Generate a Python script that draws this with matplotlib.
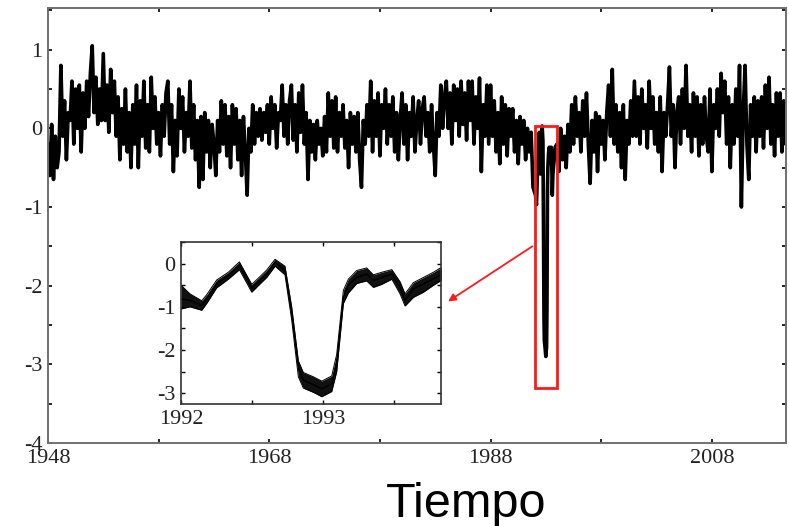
import numpy as np
import matplotlib
matplotlib.use('Agg')
import matplotlib.pyplot as plt
from matplotlib.patches import Rectangle

plt.rcParams['axes.unicode_minus'] = False

# Serie principal, 6 valores por año (1948-1991)
serie_1948_1991 = [
    -0.2, -0.6, 0.05, -0.65, -0.1, -0.5,
    -0.3, 0.8, -0.1, 0.35, -0.4, 0.2,
    0.1, 0.6, -0.2, 0.5, 0.0, 0.55,
    -0.3, 0.45, 0.0, 0.6, 0.15, 0.7,
    1.05, 0.2, 0.65, 0.05, 0.5, 0.1,
    0.95, 0.1, 0.55, -0.05, 0.75, 0.2,
    0.6, -0.1, 0.4, -0.4, 0.25, -0.2,
    0.5, -0.3, 0.2, -0.5, 0.3, -0.2,
    0.55, -0.5, 0.35, -0.1, 0.6, -0.25,
    0.3, -0.3, 0.65, 0.0, 0.4, -0.2,
    0.2, -0.35, 0.3, -0.1, 0.45, 0.6,
    -0.2, 0.3, -0.55, 0.1, -0.35, 0.5,
    0.0, 0.4, -0.3, 0.2, -0.1, 0.6,
    -0.25, 0.3, -0.4, 0.1, -0.75, 0.15,
    -0.65, 0.2, -0.3, 0.1, -0.5, 0.05,
    -0.2, -0.6, 0.1, -0.3, 0.35, -0.2,
    0.3, -0.35, 0.15, -0.5, 0.3, -0.2,
    0.25, -0.4, 0.1, -0.6, 0.15, -0.3,
    -0.85, 0.0, -0.3, 0.3, -0.2, 0.2,
    -0.1, 0.25, -0.15, 0.2, -0.05, 0.3,
    -0.2, 0.4, 0.0, 0.3, -0.25, 0.2,
    0.1, 0.55, -0.1, 0.3, -0.2, 0.35,
    0.55, -0.15, 0.3, -0.3, 0.45, -0.05,
    0.55, -0.2, 0.2, -0.65, 0.1, -0.3,
    0.05, -0.4, 0.1, -0.2, 0.0, -0.35,
    0.15, -0.3, 0.45, -0.1, 0.35, -0.25,
    0.4, -0.3, 0.2, -0.1, 0.3, -0.25,
    0.1, -0.5, 0.2, -0.2, 0.15, -0.3,
    0.2, -0.4, -0.75, 0.1, -0.2, 0.3,
    -0.1, 0.6, -0.3, 0.35, -0.1, 0.45,
    -0.35, 0.3, 0.0, 0.5, -0.2, 0.3,
    -0.1, 0.4, -0.3, 0.2, -0.4, 0.1,
    0.45, -0.2, 0.3, -0.4, 0.2, -0.1,
    0.4, -0.3, 0.1, 0.35, -0.2, 0.25,
    0.4, -0.1, 0.2, -0.3, 0.3, -0.2,
    -0.6, 0.2, -0.1, 0.55, 0.0, 0.4,
    0.6, 0.0, 0.45, -0.2, 0.55, 0.1,
    0.5, -0.1, 0.6, 0.05, 0.45, -0.15,
    0.6, 0.1, 0.6, -0.2, 0.4, 0.0,
    0.64, -0.55, 0.3, -0.1, 0.55, -0.2,
    0.55, -0.1, 0.35, -0.3, 0.2, -0.45,
    0.4, -0.2, 0.3, -0.35, 0.25, -0.1,
    0.25, -0.3, 0.1, -0.45, 0.15, -0.2,
    0.1, -0.4, 0.0, -0.3, -0.05, -0.75,
]

# Serie principal, 6 valores por año (1994-2014)
serie_1994_2014 = [
    -0.2, -0.55, 0.0, -0.4, -0.1, -0.5,
    0.05, -0.3, 0.3, -0.2, 0.4, -0.1,
    0.2, -0.3, 0.35, -0.1, 0.45, -0.2,
    -0.7, 0.1, -0.3, 0.2, -0.55, 0.15,
    -0.2, 0.1, -0.4, 0.2, 0.55, -0.1,
    0.75, -0.2, 0.3, -0.3, 0.2, -0.5,
    0.3, -0.65, 0.1, -0.2, 0.35, -0.1,
    0.6, -0.1, 0.4, -0.2, 0.5, 0.0,
    0.3, -0.25, 0.6, 0.0, 0.4, -0.2,
    0.2, -0.3, 0.4, -0.55, 0.2, -0.1,
    0.3, 0.78, -0.1, 0.3, -0.5, 0.2,
    0.4, -0.2, 0.5, 0.0, 0.8, -0.1,
    0.3, -0.3, 0.45, -0.1, 0.4, -0.35,
    0.3, -0.2, 0.4, -0.1, -0.3, 0.5,
    -0.55, 0.3, 0.0, 0.5, -0.1, 0.7,
    0.2, 0.6, -0.2, 0.4, -0.5, 0.3,
    -0.2, 0.5, -0.1, 0.8, -1.0, 0.2,
    0.8, -0.2, -0.65, 0.3, -0.1, 0.4,
    -0.3, 0.35, -0.1, 0.4, -0.25, 0.55,
    0.0, 0.65, -0.2, 0.3, -0.35, 0.45,
    -0.1, 0.45, -0.3, 0.35, -0.2, 0.3,
]

# Detalle 1992-1993 (recuadro)
det_t = [1992.00, 1992.063, 1992.146, 1992.181, 1992.251, 1992.333, 1992.411,
         1992.498, 1992.556, 1992.603, 1992.662, 1992.732, 1992.779, 1992.826,
         1992.861, 1992.932, 1992.991, 1993.061, 1993.096, 1993.143, 1993.178,
         1993.237, 1993.307, 1993.354, 1993.413, 1993.484, 1993.542, 1993.577,
         1993.636, 1993.707, 1993.777, 1993.836]
det_media = [-0.82, -0.85, -0.97, -0.82, -0.47, -0.28, -0.05, -0.58, -0.39, -0.24,
             0.03, -0.16, -1.16, -2.40, -2.70, -2.80, -2.90, -2.78, -2.30, -0.78,
             -0.50, -0.32, -0.24, -0.39, -0.32, -0.24, -0.55, -0.85, -0.58, -0.47,
             -0.35, -0.24]
det_bajo = [-1.05, -1.00, -1.08, -0.92, -0.56, -0.36, -0.14, -0.66, -0.47, -0.32,
            -0.06, -0.26, -1.30, -2.62, -2.88, -2.98, -3.08, -2.96, -2.50, -0.92,
            -0.68, -0.46, -0.40, -0.55, -0.48, -0.36, -0.70, -0.98, -0.78, -0.66,
            -0.50, -0.38]
det_alto = [-0.50, -0.70, -0.86, -0.72, -0.38, -0.20, 0.04, -0.48, -0.30, -0.15,
            0.10, -0.06, -1.00, -2.25, -2.52, -2.62, -2.72, -2.60, -2.10, -0.62,
            -0.36, -0.16, -0.10, -0.26, -0.20, -0.14, -0.42, -0.70, -0.44, -0.32,
            -0.20, -0.08]

t1 = 1948 + np.arange(len(serie_1948_1991)) / 6
t2 = 1994 + np.arange(len(serie_1994_2014)) / 6
t = np.concatenate([t1, det_t, t2])
y = np.concatenate([serie_1948_1991, det_media, serie_1994_2014])

fig = plt.figure(figsize=(7.89, 5.26), dpi=100)
ax = fig.add_axes([0.0608, 0.1578, 0.9354, 0.827])

ax.plot(t, y, color='black', lw=2.6, solid_joinstyle='round')
ax.set_xlim(1948, 2014.7)
ax.set_ylim(-4, 1.53)

gris = '#707070'
for s in ax.spines.values():
    s.set_color(gris)
    s.set_linewidth(1.4)

fuente = {'family': 'Liberation Serif', 'size': 16}
ax.set_xticks(np.arange(1948, 2015, 10))
ax.set_xticklabels([str(a) if (a - 1948) % 20 == 0 else '' for a in range(1948, 2015, 10)], fontdict=fuente)
ax.set_yticks(np.arange(-4, 1.6, 0.5))
ax.set_yticklabels([str(int(v)) if v == int(v) else '' for v in np.arange(-4, 1.6, 0.5)], fontdict=fuente)
ax.tick_params(direction='in', length=3, width=1.2, color='black', top=True, right=True,
               labelcolor='#222222', pad=4)

# recuadro rojo y flecha
ax.add_patch(Rectangle((1992, -3.3), 2, 3.33, fill=False, edgecolor='#ff1a1a', lw=2, zorder=5))
ax.annotate('', xy=(1983.95, -2.22), xytext=(1991.99, -1.48),
            arrowprops=dict(arrowstyle='-|>', color='#ff1a1a', lw=1.3, mutation_scale=11))

# grafica de detalle
axi = fig.add_axes([0.2294, 0.2319, 0.3295, 0.308])
axi.fill_between(det_t, det_bajo, det_alto, color='#111111', lw=0)
axi.plot(det_t, det_bajo, color='black', lw=0.7)
axi.plot(det_t, det_alto, color='black', lw=0.7)
axi.plot(det_t, det_media, color='black', lw=1.0)
axi.set_xlim(1992, 1993.83)
axi.set_ylim(-3.25, 0.5)
for s in axi.spines.values():
    s.set_color('#333333')
    s.set_linewidth(1.2)
axi.set_xticks([1992, 1992.5, 1993, 1993.5])
axi.set_xticklabels(['1992', '', '1993', ''], fontdict=fuente)
yt = np.arange(-3, 0.6, 0.5)
axi.set_yticks(yt)
axi.set_yticklabels([str(int(v)) if v == int(v) else '' for v in yt], fontdict=fuente)
axi.tick_params(direction='in', length=3, width=1.0, top=True, right=True,
                labelcolor='#222222', pad=4)

fig.text(0.5906, 0.0171, 'Tiempo', fontsize=35, family='Liberation Sans',
         ha='center', va='baseline')

fig.savefig('out.png', dpi=100)
